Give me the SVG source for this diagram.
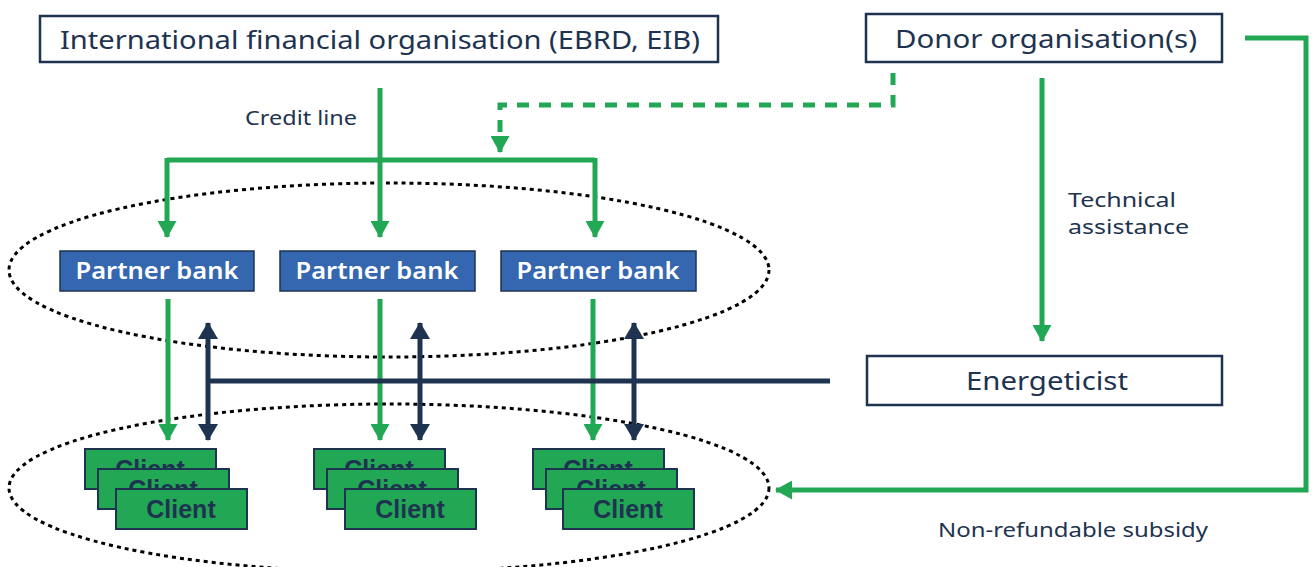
<svg xmlns="http://www.w3.org/2000/svg" width="1312" height="567" viewBox="0 0 1312 567">
<defs>
<style>
.box{fill:#fff;stroke:#1e3350;stroke-width:2.5}
.big{font-family:"Noto Sans","Open Sans",sans-serif;font-size:26px;fill:#1e3350;text-anchor:middle}
.lbl{font-family:"Noto Sans","Open Sans",sans-serif;font-size:20px;fill:#1e3350}
.pb{fill:#3567b0;stroke:#1e3350;stroke-width:1.5}
.pbt{font-family:"Noto Sans","Open Sans",sans-serif;font-size:23px;font-weight:600;fill:#fff;text-anchor:middle}
.cl{fill:#22a755;stroke:#1e3350;stroke-width:2}
.clt{font-family:"Liberation Sans",Arial,sans-serif;font-size:25px;font-weight:bold;fill:#1e3350;text-anchor:middle}
.g{fill:none;stroke:#22a755;stroke-width:5}
.n{fill:none;stroke:#1e3350;stroke-width:5}
.ell{fill:none;stroke:#000;stroke-width:3;stroke-dasharray:4 4}
</style>
<marker id="ag" markerWidth="17" markerHeight="19" refX="16" refY="9.5" orient="auto" markerUnits="userSpaceOnUse" viewBox="0 0 17 19"><path d="M0,0 L17,9.5 L0,19 z" fill="#22a755"/></marker>
<marker id="an" markerWidth="17" markerHeight="20" refX="16" refY="10" orient="auto-start-reverse" markerUnits="userSpaceOnUse" viewBox="0 0 17 20"><path d="M0,0 L17,10 L0,20 z" fill="#1e3350"/></marker>
</defs>
<g id="ellipses">
<ellipse class="ell" cx="389" cy="270" rx="380" ry="87"/>
<ellipse class="ell" cx="389" cy="488" rx="380" ry="84"/>
</g>
<g id="connectors">
<path class="g" d="M380,88 V237" marker-end="url(#ag)"/>
<path class="g" d="M167,160 H595"/>
<path class="g" d="M167,158 V237" marker-end="url(#ag)"/>
<path class="g" d="M595,158 V237" marker-end="url(#ag)"/>
<path class="g" d="M893,73 V105 H500 V152" stroke-dasharray="12 10" marker-end="url(#ag)"/>
<path class="g" d="M1042,78 V341" marker-end="url(#ag)"/>
<path class="g" d="M1245,38 H1306 V490 H776" marker-end="url(#ag)"/>
<path class="g" d="M168,299 V440" marker-end="url(#ag)"/>
<path class="g" d="M380,299 V440" marker-end="url(#ag)"/>
<path class="g" d="M593,299 V440" marker-end="url(#ag)"/>
<path class="n" d="M208,323 V440" marker-start="url(#an)" marker-end="url(#an)"/>
<path class="n" d="M420,323 V440" marker-start="url(#an)" marker-end="url(#an)"/>
<path class="n" d="M634,323 V440" marker-start="url(#an)" marker-end="url(#an)"/>
<path class="n" d="M208,381 H830"/>
</g>
<g id="ifo"><rect class="box" x="40" y="16" width="678" height="46"/><text class="big" x="380" y="49" textLength="640" lengthAdjust="spacingAndGlyphs">International financial organisation (EBRD, EIB)</text></g>
<g id="donor"><rect class="box" x="866" y="14" width="356" height="48"/><text class="big" x="1046" y="48" textLength="302" lengthAdjust="spacingAndGlyphs">Donor organisation(s)</text></g>
<g id="energeticist"><rect class="box" x="867" y="356" width="355" height="49"/><text class="big" x="1047" y="390" textLength="162" lengthAdjust="spacingAndGlyphs">Energeticist</text></g>
<g id="labels">
<text class="lbl" x="245" y="125" textLength="112" lengthAdjust="spacingAndGlyphs">Credit line</text>
<text class="lbl" x="1068" y="207" textLength="108" lengthAdjust="spacingAndGlyphs">Technical</text>
<text class="lbl" x="1068" y="234" textLength="121" lengthAdjust="spacingAndGlyphs">assistance</text>
<text class="lbl" x="938" y="537" textLength="270" lengthAdjust="spacingAndGlyphs">Non-refundable subsidy</text>
</g>
<g id="pb1"><rect class="pb" x="60" y="251" width="194" height="40"/><text class="pbt" x="157" y="279" textLength="163" lengthAdjust="spacingAndGlyphs">Partner bank</text></g>
<g id="pb2"><rect class="pb" x="280" y="251" width="195" height="40"/><text class="pbt" x="377" y="279" textLength="163" lengthAdjust="spacingAndGlyphs">Partner bank</text></g>
<g id="pb3"><rect class="pb" x="501" y="251" width="195" height="40"/><text class="pbt" x="598" y="279" textLength="163" lengthAdjust="spacingAndGlyphs">Partner bank</text></g>
<g id="clients1">
<rect class="cl" x="85" y="449" width="131" height="40"/><text class="clt" x="150" y="478">Client</text>
<rect class="cl" x="98" y="469" width="131" height="40"/><text class="clt" x="163" y="498">Client</text>
<rect class="cl" x="116" y="489" width="131" height="40"/><text class="clt" x="181" y="518">Client</text>
</g>
<g id="clients2">
<rect class="cl" x="314" y="449" width="131" height="40"/><text class="clt" x="379" y="478">Client</text>
<rect class="cl" x="327" y="469" width="131" height="40"/><text class="clt" x="392" y="498">Client</text>
<rect class="cl" x="345" y="489" width="131" height="40"/><text class="clt" x="410" y="518">Client</text>
</g>
<g id="clients3">
<rect class="cl" x="533" y="449" width="131" height="40"/><text class="clt" x="598" y="478">Client</text>
<rect class="cl" x="546" y="469" width="131" height="40"/><text class="clt" x="611" y="498">Client</text>
<rect class="cl" x="563" y="489" width="131" height="40"/><text class="clt" x="628" y="518">Client</text>
</g>
</svg>
